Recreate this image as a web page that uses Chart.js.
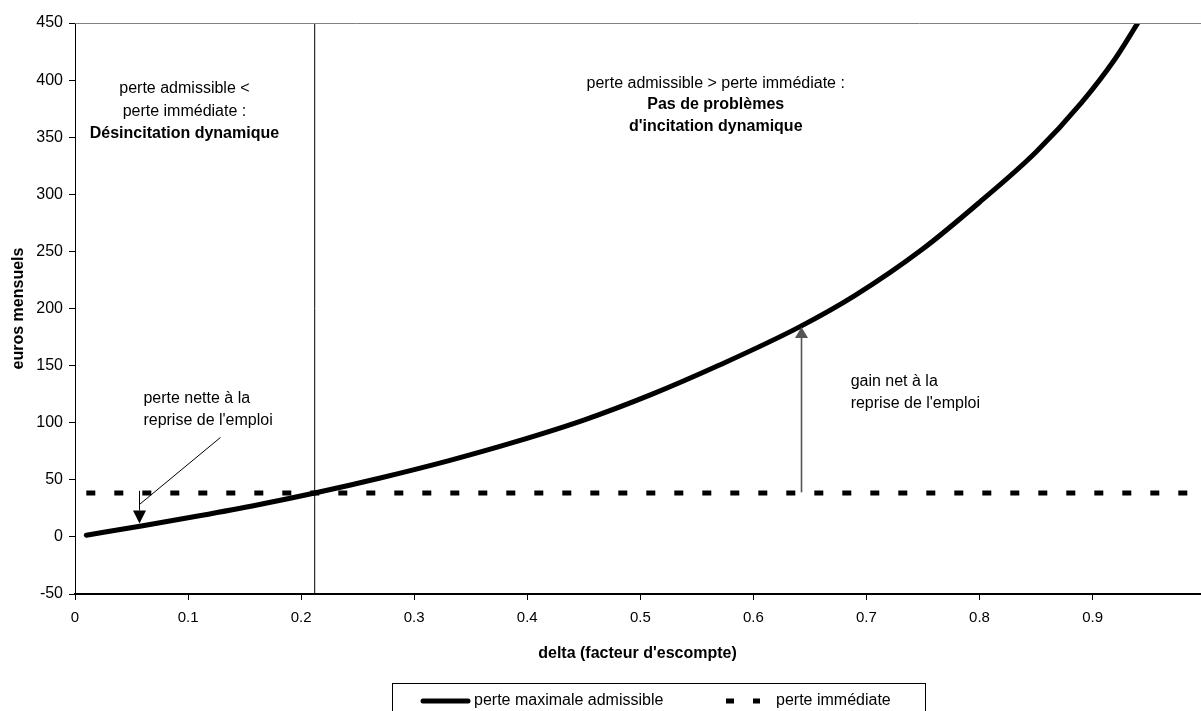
<!DOCTYPE html>
<html lang="fr">
<head>
<meta charset="utf-8">
<title>Perte maximale admissible et perte immédiate</title>
<script src="https://cdn.jsdelivr.net/npm/chart.js@4.4.1/dist/chart.umd.min.js"></script>
<style>
  html, body { margin: 0; padding: 0; background: #fff; }
  #wrap { width: 1201px; height: 711px; overflow: hidden; }
</style>
</head>
<body>
<div id="wrap"><canvas id="chart" width="1201" height="711"></canvas></div>
<script>
// Valeurs
const seriesLabels = ["perte maximale admissible", "perte immédiate"];
const deltaCurve = [0.01, 0.06, 0.11, 0.16, 0.212, 0.27, 0.33, 0.39, 0.45, 0.51, 0.57, 0.64, 0.69, 0.75, 0.80, 0.85, 0.89, 0.92, 0.94];
const perteMaximale = [1.5, 9.75, 18.5, 27.75, 38.4, 51.6, 66.6, 83.4, 102.3, 124.8, 150.5, 183.5, 211.5, 252.3, 293, 337, 380, 418.7, 450];
const deltaImmediate = [0.01, 0.99];
const perteImmediate = [38.5, 38.5];
const deltaSeuil = 0.212;
const yRange = [-50, 450];
const yStep = 50;
const xStep = 0.1;

const FONT = "'Liberation Sans', Arial, Helvetica, sans-serif";

// texts and arrows placed in data units
const notes = [
    { x: 0.0968, y: 393, text: "perte admissible <", bold: false, align: "center" },
    { x: 0.0968, y: 372.6, text: "perte immédiate :", bold: false, align: "center" },
    { x: 0.0968, y: 352.8, text: "Désincitation dynamique", bold: true, align: "center" },
    { x: 0.5667, y: 397.2, text: "perte admissible > perte immédiate :", bold: false, align: "center" },
    { x: 0.5667, y: 378.2, text: "Pas de problèmes", bold: true, align: "center" },
    { x: 0.5667, y: 359.2, text: "d'incitation dynamique", bold: true, align: "center" },
    { x: 0.0605, y: 121.2, text: "perte nette à la", bold: false, align: "left" },
    { x: 0.0605, y: 101.6, text: "reprise de l'emploi", bold: false, align: "left" },
    { x: 0.686, y: 135.8, text: "gain net à la", bold: false, align: "left" },
    { x: 0.686, y: 116.9, text: "reprise de l'emploi", bold: false, align: "left" }
];
const arrows = [
    { x1: 0.057, y1: 40.3, x2: 0.057, y2: 11.7, color: "#000", width: 1, headW: 13, headL: 13 },
    { x1: 0.642, y1: 39, x2: 0.642, y2: 183.8, color: "#555", width: 1.6, headW: 13, headL: 11 }
];
const pointers = [
    { x1: 0.0573, y1: 28.6, x2: 0.1287, y2: 87.1 }
];

function toPoints(xs, ys) {
    return xs.map((x, i) => ({ x: x, y: ys[i] }));
}

function drawArrow(ctx, x1, y1, x2, y2, a) {
    const ang = Math.atan2(y2 - y1, x2 - x1);
    const bx = x2 - Math.cos(ang) * a.headL;
    const by = y2 - Math.sin(ang) * a.headL;
    ctx.strokeStyle = a.color;
    ctx.fillStyle = a.color;
    ctx.lineWidth = a.width;
    ctx.beginPath();
    ctx.moveTo(x1, y1);
    ctx.lineTo(bx, by);
    ctx.stroke();
    const nx = -Math.sin(ang) * a.headW / 2;
    const ny = Math.cos(ang) * a.headW / 2;
    ctx.beginPath();
    ctx.moveTo(x2, y2);
    ctx.lineTo(bx + nx, by + ny);
    ctx.lineTo(bx - nx, by - ny);
    ctx.closePath();
    ctx.fill();
}

const notesPlugin = {
    id: "notes",
    afterDatasetsDraw(chart) {
        const ctx = chart.ctx;
        const xs = chart.scales.x;
        const ys = chart.scales.y;
        const area = chart.chartArea;
        ctx.save();

        // top frame line
        ctx.strokeStyle = "#808080";
        ctx.lineWidth = 1;
        ctx.beginPath();
        ctx.moveTo(area.left, Math.round(area.top) + 0.5);
        ctx.lineTo(area.right + 1, Math.round(area.top) + 0.5);
        ctx.stroke();

        pointers.forEach(p => {
            ctx.strokeStyle = "#000";
            ctx.lineWidth = 1;
            ctx.beginPath();
            ctx.moveTo(xs.getPixelForValue(p.x1), ys.getPixelForValue(p.y1));
            ctx.lineTo(xs.getPixelForValue(p.x2), ys.getPixelForValue(p.y2));
            ctx.stroke();
        });

        arrows.forEach(a => {
            drawArrow(ctx,
                Math.round(xs.getPixelForValue(a.x1)) + 0.5, ys.getPixelForValue(a.y1),
                Math.round(xs.getPixelForValue(a.x2)) + 0.5, ys.getPixelForValue(a.y2), a);
        });

        ctx.fillStyle = "#000";
        ctx.textBaseline = "middle";
        notes.forEach(n => {
            ctx.font = (n.bold ? "bold " : "") + "16px " + FONT;
            ctx.textAlign = n.align;
            ctx.fillText(n.text, xs.getPixelForValue(n.x), ys.getPixelForValue(n.y));
        });
        ctx.restore();
    }
};

const legendPlugin = {
    id: "boxLegend",
    afterDraw(chart) {
        const ctx = chart.ctx;
        const sets = chart.data.datasets;
        const y = 701;
        ctx.save();
        ctx.strokeStyle = "#000";
        ctx.lineWidth = 1;
        ctx.strokeRect(392.5, 683.5, 533, 40);

        ctx.lineWidth = sets[0].borderWidth;
        ctx.lineCap = "round";
        ctx.beginPath();
        ctx.moveTo(423, y);
        ctx.lineTo(468, y);
        ctx.stroke();

        ctx.lineWidth = sets[1].borderWidth;
        ctx.lineCap = "butt";
        ctx.setLineDash([8, 19]);
        ctx.beginPath();
        ctx.moveTo(726, y);
        ctx.lineTo(760, y);
        ctx.stroke();
        ctx.setLineDash([]);

        ctx.fillStyle = "#000";
        ctx.font = "16px " + FONT;
        ctx.textBaseline = "middle";
        ctx.textAlign = "left";
        ctx.fillText(sets[0].label, 474, y);
        ctx.fillText(sets[1].label, 776, y);
        ctx.restore();
    }
};

const ctx = document.getElementById("chart").getContext("2d");

new Chart(ctx, {
    type: "line",
    data: {
        datasets: [
            {
                label: seriesLabels[0],
                data: toPoints(deltaCurve, perteMaximale),
                borderColor: "#000",
                borderWidth: 5,
                borderCapStyle: "round",
                borderJoinStyle: "round",
                pointRadius: 0,
                cubicInterpolationMode: "monotone",
                fill: false
            },
            {
                label: seriesLabels[1],
                data: toPoints(deltaImmediate, perteImmediate),
                borderColor: "#000",
                borderWidth: 5,
                borderDash: [9, 19],
                borderCapStyle: "butt",
                pointRadius: 0,
                fill: false
            },
            {
                label: "seuil",
                data: toPoints([deltaSeuil, deltaSeuil], yRange),
                borderColor: "#000",
                borderWidth: 1,
                pointRadius: 0,
                fill: false
            }
        ]
    },
    options: {
        responsive: false,
        animation: false,
        events: [],
        layout: { padding: { top: 23, right: 1, bottom: 0, left: 0 } },
        plugins: {
            legend: { display: false },
            tooltip: { enabled: false }
        },
        scales: {
            x: {
                type: "linear",
                min: 0,
                max: 0.995,
                afterFit(scale) { scale.height = 117; },
                ticks: {
                    stepSize: xStep,
                    includeBounds: false,
                    padding: 9,
                    color: "#000",
                    font: { family: FONT, size: 15 },
                    callback: v => Math.round(v * 10) / 10
                },
                grid: { drawOnChartArea: false, drawTicks: true, tickLength: 6, color: "#000" },
                border: { display: true, color: "#000", width: 2 },
                title: {
                    display: true,
                    text: "delta (facteur d'escompte)",
                    color: "#000",
                    font: { family: FONT, size: 16, weight: "bold" },
                    padding: { top: 0, bottom: 48 }
                }
            },
            y: {
                min: yRange[0],
                max: yRange[1],
                afterFit(scale) { scale.width = 75; },
                ticks: {
                    stepSize: yStep,
                    padding: 6,
                    color: "#000",
                    font: { family: FONT, size: 16 }
                },
                grid: { drawOnChartArea: false, drawTicks: true, tickLength: 6, color: "#000" },
                border: { display: true, color: "#000", width: 1 },
                title: {
                    display: true,
                    text: "euros mensuels",
                    color: "#000",
                    font: { family: FONT, size: 16, weight: "bold" },
                    padding: { top: 9, bottom: 0 }
                }
            }
        }
    },
    plugins: [notesPlugin, legendPlugin]
});
</script>
</body>
</html>
